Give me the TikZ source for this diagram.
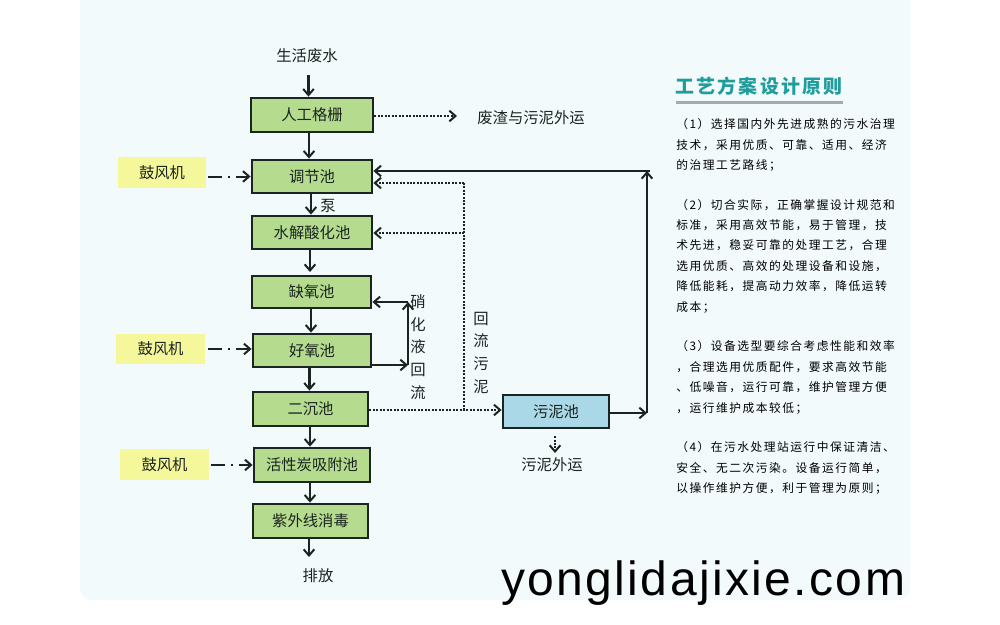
\documentclass[tikz,border=0pt]{standalone}
\usepackage{fontspec}
\usetikzlibrary{arrows.meta,calc}
\newfontfamily\cjk{Noto Sans CJK SC}
\newfontfamily\cjkbody[LetterSpace=13]{Noto Sans CJK SC}
\newfontfamily\cjktitle[LetterSpace=12]{Noto Sans CJK SC}
\newfontfamily\wmfont[LetterSpace=5]{Liberation Sans}
\definecolor{panel}{HTML}{F2FAFB}
\definecolor{ink}{HTML}{1A2420}
\definecolor{tankfill}{HTML}{B5DB8E}
\definecolor{sludgefill}{HTML}{ABD8E6}
\definecolor{blowerfill}{HTML}{F5F79B}
\definecolor{titlecol}{HTML}{1F9C9C}
\definecolor{barcol}{HTML}{A3ABAD}
\tikzset{
  x=0.75pt,y=-0.75pt,
  wh/.style 2 args={minimum width=#1*0.75pt,minimum height=#2*0.75pt},
  tank/.style={draw=ink,line width=2.1pt,fill=tankfill,inner sep=0pt,text=ink,font=\cjk\fontsize{11.5}{14}\selectfont},
  sludgetank/.style={tank,fill=sludgefill},
  blower/.style={fill=blowerfill,inner sep=0pt,text=ink,font=\cjk\fontsize{11.5}{14}\selectfont},
  lbl/.style={inner sep=0pt,text=ink,font=\cjk\fontsize{11.5}{14}\selectfont},
  vlbl/.style={inner sep=0pt,text=ink,align=center,font=\cjk\fontsize{11.5}{17}\selectfont},
  para/.style={inner sep=0pt,anchor=west,align=left,text=black,font=\cjkbody\fontsize{8.8}{15.3}\selectfont},
  tip/.style={-{Straight Barb[length=4.6pt,width=8pt,line width=1.5pt]}},
  flow/.style={draw=ink,line width=1.7pt,tip},
  plain/.style={draw=ink,line width=1.7pt},
  dots/.style={draw=ink,line width=1.6pt,dash pattern=on 1.5pt off 1.1pt},
  dotflow/.style={dots,tip},
  air/.style={draw=ink,line width=1.5pt,tip,dash pattern=on 10.5pt off 4.5pt on 1.5pt off 4.5pt on 30pt},
}
\begin{document}
\begin{tikzpicture}
\useasboundingbox (0,0) rectangle (1000,625);
\fill[panel,rounded corners=9pt] (80,-20) rectangle (910,600);

% nodes
\node[lbl] (raw) at (307,56) {生活废水};
\node[tank,wh={122}{34}] (grid) at (312,115) {人工格栅};
\node[tank,wh={120}{33}] (adj) at (312,176.5) {调节池};
\node[tank,wh={120}{33}] (hyd) at (312,232.5) {水解酸化池};
\node[tank,wh={119}{32}] (ano) at (311.5,292) {缺氧池};
\node[tank,wh={118}{33}] (aer) at (312,350.5) {好氧池};
\node[tank,wh={115}{34}] (sec) at (310.5,409) {二沉池};
\node[tank,wh={116}{34}] (act) at (312,465) {活性炭吸附池};
\node[tank,wh={115}{34}] (uv) at (310.5,521) {紫外线消毒};
\node[sludgetank,wh={106}{33}] (slu) at (556,411.5) {污泥池};
\node[lbl] (out) at (318,576) {排放};
\node[lbl] (waste) at (531,118) {废渣与污泥外运};
\node[lbl] (sout) at (552,465) {污泥外运};
\node[blower,wh={88}{31}] (b1) at (162,172.5) {鼓风机};
\node[blower,wh={89}{30}] (b2) at (160.5,349) {鼓风机};
\node[blower,wh={89}{31}] (b3) at (164.5,464.5) {鼓风机};
\node[lbl] (pump) at (328,206) {泵};
\node[vlbl] (nitr) at (418,347) {硝\\化\\液\\回\\流};
\node[vlbl] (ret) at (481,352.5) {回\\流\\污\\泥};

% free junctions
\coordinate (j1) at (408,365);
\coordinate (j2) at (408,302);
\coordinate (j3) at (464,410);
\coordinate (j4) at (464,183);
\coordinate (j5) at (464,233);
\coordinate (j6) at (647,413);
\coordinate (j7) at (647,171);
\coordinate (j8) at (650,171);
\coordinate (wend) at (457,116);

% main line
\draw[flow] (308.5,75) -- (grid.north -| 308.5,0);
\draw[flow] (grid.south -| 309,0) -- (adj.north -| 309,0);
\draw[flow] (adj.south -| 311,0) -- (hyd.north -| 311,0);
\draw[flow] (hyd.south -| 310,0) -- (310,272);
\draw[flow] (ano.south -| 311,0) -- (aer.north -| 311,0);
\draw[flow] (aer.south -| 309.5,0) -- (sec.north -| 309.5,0);
\draw[flow] (sec.south -| 310,0) -- (act.north -| 310,0);
\draw[flow] (act.south -| 310,0) -- (uv.north -| 310,0);
\draw[flow] (uv.south -| 309,0) -- (309,557);

% blowers
\draw[air] (208,176.5) -- (adj.west |- 0,176.5);
\draw[air] (208,349) -- (aer.west |- 0,349);
\draw[air] (211,465) -- (act.west |- 0,465);

% screenings
\draw[dotflow] (grid.east |- wend) -- (wend);

% nitrification return
\draw[flow] (aer.east |- j1) -- (j1);
\draw[flow] (j1) -- (j2);
\draw[flow] (j2) -- (ano.east |- j2);

% sludge return (dotted)
\draw[dotflow] (sec.east |- j3) -- (slu.west |- j3);
\draw[dots] (j3) -- (j4);
\draw[dotflow] (j4) -- (adj.east |- j4);
\draw[dotflow] (j5) -- (hyd.east |- j5);

% sludge tank return (solid)
\draw[flow] (slu.east |- j6) -- (j6);
\draw[flow] (j6) -- (j7);
\draw[flow] (j8) -- (adj.east |- j8);

% sludge out
\draw[dotflow,shorten <=5pt,shorten >=3.5pt] (slu.south -| 555,0) -- (sout.north -| 555,0);

% right column
\node[inner sep=0pt,anchor=west,text=titlecol,font=\cjktitle\bfseries\fontsize{14.2}{17}\selectfont] (title) at (675,86) {工艺方案设计原则};
\fill[barcol] (676,101) rectangle (843,104);
\node[para] (p1) at (676,145) {（1）选择国内外先进成熟的污水治理\\技术，采用优质、可靠、适用、经济\\的治理工艺路线；};
\node[para] (p2) at (676,256) {（2）切合实际，正确掌握设计规范和\\标准，采用高效节能，易于管理，技\\术先进，稳妥可靠的处理工艺，合理\\选用优质、高效的处理设备和设施，\\降低能耗，提高动力效率，降低运转\\成本；};
\node[para] (p3) at (676,377.5) {（3）设备选型要综合考虑性能和效率\\，合理选用优质配件，要求高效节能\\、低噪音，运行可靠，维护管理方便\\，运行维护成本较低；};
\node[para] (p4) at (676,468) {（4）在污水处理站运行中保证清洁、\\安全、无二次污染。设备运行简单，\\以操作维护方便，利于管理为原则；};

% watermark
\node[inner sep=0pt,anchor=base west,text=black,font=\wmfont\fontsize{36}{40}\selectfont] (wm) at (501,595) {yonglidajixie.com};
\end{tikzpicture}
\end{document}
